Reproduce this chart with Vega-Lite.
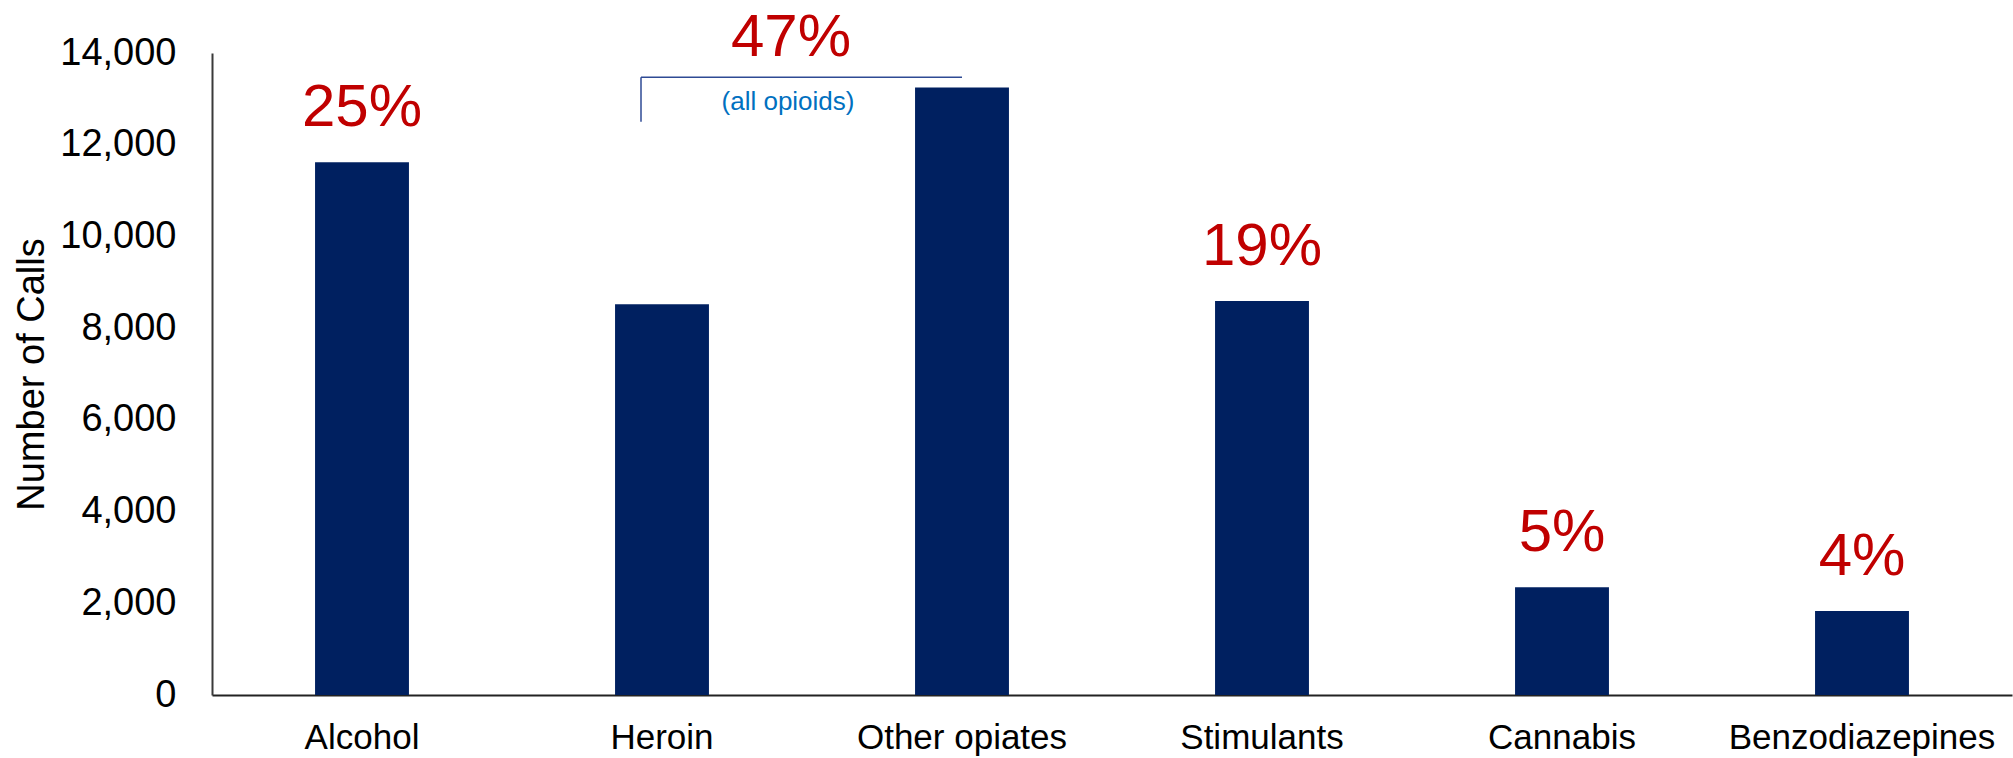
{
  "$schema": "https://vega.github.io/schema/vega-lite/v6.json",
  "autosize": "none",
  "width": 1800,
  "height": 642,
  "padding": {"left": 212, "top": 53, "right": 1, "bottom": 63},
  "background": "white",
  "config": {"view": {"stroke": null}, "font": "Liberation Sans"},
  "datasets": {
    "bars": [
      {"substance": "Alcohol", "calls": 11620, "pct": "25%"},
      {"substance": "Heroin", "calls": 8520, "pct": ""},
      {"substance": "Other opiates", "calls": 13250, "pct": ""},
      {"substance": "Stimulants", "calls": 8590, "pct": "19%"},
      {"substance": "Cannabis", "calls": 2350, "pct": "5%"},
      {"substance": "Benzodiazepines", "calls": 1830, "pct": "4%"}
    ],
    "bracket": [
      {"pos": 1.43, "pos2": 2.5, "y": 13470, "y2": 13470},
      {"pos": 1.43, "pos2": 1.43, "y": 13470, "y2": 12500}
    ],
    "notes": [
      {"pos": 1.93, "y": 13935, "label": "47%", "kind": "pct"},
      {"pos": 1.92, "y": 12760, "label": "(all opioids)", "kind": "note"}
    ]
  },
  "layer": [
    {
      "data": {"name": "bars"},
      "encoding": {
        "x": {
          "field": "substance", "type": "nominal", "sort": null,
          "scale": {"paddingInner": 0.687, "paddingOuter": 0.3435},
          "axis": {
            "title": null, "labelAngle": 0, "labelFontSize": 35, "labelColor": "#000000",
            "labelPadding": 25, "ticks": false, "domainColor": "#222222", "domainWidth": 2,
            "labelFont": "Liberation Sans", "labelLimit": 0
          }
        },
        "y": {
          "field": "calls", "type": "quantitative",
          "scale": {"domain": [0, 14000], "nice": false},
          "axis": {
            "title": "Number of Calls", "titleFontSize": 38, "titleFontWeight": "normal",
            "titleColor": "#000000", "titlePadding": 8, "titleFont": "Liberation Sans",
            "values": [0, 2000, 4000, 6000, 8000, 10000, 12000, 14000],
            "labelExpr": "format(datum.value, ',')",
            "labelFontSize": 38, "labelColor": "#000000", "labelPadding": 36, "ticks": false,
            "grid": false, "domainColor": "#3a3a3a", "domainWidth": 2, "labelFont": "Liberation Sans"
          }
        }
      },
      "layer": [
        {"mark": {"type": "bar", "color": "#002060"}},
        {
          "mark": {"type": "text", "color": "#C00000", "fontSize": 60, "baseline": "alphabetic", "dy": -36, "font": "Liberation Sans"},
          "encoding": {"text": {"field": "pct"}}
        }
      ]
    },
    {
      "encoding": {
        "x": {"field": "pos", "type": "quantitative", "scale": {"domain": [0, 6], "nice": false, "zero": false}, "axis": null},
        "y": {"field": "y", "type": "quantitative"}
      },
      "layer": [
        {
          "data": {"name": "bracket"},
          "mark": {"type": "rule", "color": "#2E4A94", "strokeWidth": 1.5},
          "encoding": {"x2": {"field": "pos2"}, "y2": {"field": "y2"}}
        },
        {
          "data": {"name": "notes"},
          "mark": {"type": "text", "baseline": "alphabetic", "font": "Liberation Sans"},
          "encoding": {
            "text": {"field": "label"},
            "color": {"field": "kind", "type": "nominal", "scale": {"domain": ["pct", "note"], "range": ["#C00000", "#0070C0"]}, "legend": null},
            "size": {"field": "kind", "type": "nominal", "scale": {"domain": ["pct", "note"], "range": [60, 26]}, "legend": null}
          }
        }
      ]
    }
  ],
  "resolve": {"scale": {"x": "independent"}}
}
